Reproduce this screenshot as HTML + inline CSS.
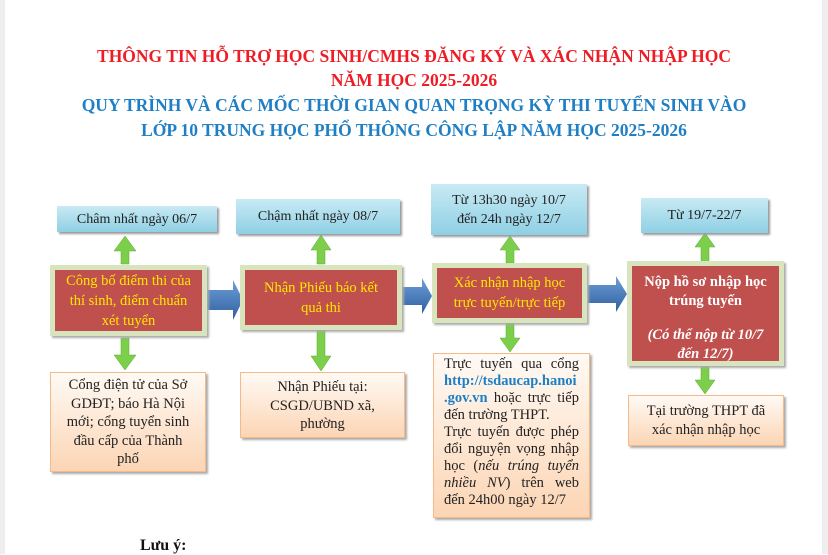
<!DOCTYPE html>
<html><head><meta charset="utf-8"><style>
body{margin:0;width:828px;height:554px;background:#fff;position:relative;overflow:hidden;font-family:"Liberation Serif",serif;}
.a{position:absolute;}
.t{left:0;width:828px;text-align:center;font-weight:bold;font-size:17.5px;white-space:nowrap;}
.blue{background:linear-gradient(#c8eaf4,#8fd0e4);box-shadow:2px 2px 2px #999;text-align:center;font-size:14px;color:#222;display:flex;align-items:center;justify-content:center;line-height:19px;}
.red{background:#c0504d;border:5px solid #d7e4bd;box-sizing:border-box;box-shadow:2px 2px 2px #aaa;text-align:center;font-size:14.5px;display:flex;align-items:center;justify-content:center;line-height:20px;}
.org{background:linear-gradient(#fffaf5,#fcd5b4);border:1px solid #f5b98a;box-shadow:2px 2px 2px #aaa;box-sizing:border-box;text-align:center;font-size:14.5px;color:#222;line-height:18.5px;}
</style></head><body>
<div class="a" style="left:0;top:0;width:5px;height:554px;background:#eee"></div>
<div class="a" style="right:0;top:0;width:6px;height:554px;background:#eee"></div>
<div class="a t" style="top:46px;color:#ee1c25;">THÔNG TIN HỖ TRỢ HỌC SINH/CMHS ĐĂNG KÝ VÀ XÁC NHẬN NHẬP HỌC</div>
<div class="a t" style="top:70px;color:#ee1c25;">NĂM HỌC 2025-2026</div>
<div class="a t" style="top:95px;color:#1f7fc4;">QUY TRÌNH VÀ CÁC MỐC THỜI GIAN QUAN TRỌNG KỲ THI TUYỂN SINH VÀO</div>
<div class="a t" style="top:120px;color:#1f7fc4;">LỚP 10 TRUNG HỌC PHỔ THÔNG CÔNG LẬP NĂM HỌC 2025-2026</div>

<svg class="a" style="left:0;top:0" width="828" height="554">
<defs><linearGradient id="bg" x1="0" y1="0" x2="0" y2="1"><stop offset="0" stop-color="#6f9fd8"/><stop offset="1" stop-color="#2f5f9f"/></linearGradient></defs>
<g fill="url(#bg)">
<path d="M205 290h28v-10l10 20-10 20v-10h-28z"/>
<path d="M400 287h22v-9l10 18-10 18v-9h-22z"/>
<path d="M588 285h28v-9l11 18-11 18v-9h-28z"/>
</g>
<g fill="#7ccf4a" stroke="#5aa832" stroke-width="0.5">
<path d="M125 236l-11 15h7v13h8v-13h7z"/><path d="M125 370l-11-15h7v-17h8v17h7z"/>
<path d="M321 235l-10 15h6v14h8v-14h6z"/><path d="M321 371l-10-15h6v-26h8v26h6z"/>
<path d="M510 236l-10 14h6v13h8v-13h6z"/><path d="M510 352l-10-14h6v-15h8v15h6z"/>
<path d="M705 233l-10 14h6v15h8v-15h6z"/><path d="M705 394l-10-14h6v-14h8v14h6z"/>
</g>
</svg>

<div class="a blue" style="left:57px;top:206px;width:160px;height:26px;">Châm nhất ngày 06/7</div>
<div class="a blue" style="left:236px;top:199px;width:164px;height:35px;">Chậm nhất ngày 08/7</div>
<div class="a blue" style="left:431px;top:184px;width:156px;height:51px;">Từ 13h30 ngày 10/7<br>đến 24h ngày 12/7</div>
<div class="a blue" style="left:641px;top:198px;width:127px;height:35px;">Từ 19/7-22/7</div>

<div class="a red" style="left:50px;top:265px;width:157px;height:71px;color:#ffe600;">Công bố điểm thi của<br>thí sinh, điểm chuẩn<br>xét tuyển</div>
<div class="a red" style="left:240px;top:265px;width:162px;height:65px;color:#ffe600;">Nhận Phiếu báo kết<br>quả thi</div>
<div class="a red" style="left:432px;top:263px;width:155px;height:60px;color:#ffe600;">Xác nhận nhập học<br>trực tuyến/trực tiếp</div>
<div class="a red" style="left:627px;top:261px;width:157px;height:105px;color:#fff;font-weight:bold;display:block;padding-top:7px;line-height:19px;">Nộp hồ sơ nhập học<br>trúng tuyến<div style="height:15px"></div><i>(Có thể nộp từ 10/7<br>đến 12/7)</i></div>

<div class="a org" style="left:50px;top:372px;width:156px;height:100px;padding-top:3px;">Cổng điện tử của Sở<br>GDĐT; báo Hà Nội<br>mới; cổng tuyển sinh<br>đầu cấp của Thành<br>phố</div>
<div class="a org" style="left:240px;top:372px;width:165px;height:66px;padding-top:5px;">Nhận Phiếu tại:<br>CSGD/UBND xã,<br>phường</div>
<div class="a org" style="left:433px;top:353px;width:157px;height:165px;padding:2px 10px 0 10px;text-align:justify;line-height:17px;">Trực tuyến qua cổng <b style="color:#1f7fc4">http://tsdaucap.hanoi .gov.vn</b> hoặc trực tiếp đến trường THPT.<br>Trực tuyến được phép đổi nguyện vọng nhập học (<i>nếu trúng tuyển nhiều NV</i>) trên web đến 24h00 ngày 12/7</div>
<div class="a org" style="left:628px;top:395px;width:156px;height:51px;padding-top:6px;">Tại trường THPT đã<br>xác nhận nhập học</div>

<div class="a" style="left:140px;top:537px;font-weight:bold;font-size:16px;color:#111;">Lưu ý:</div>
</body></html>
